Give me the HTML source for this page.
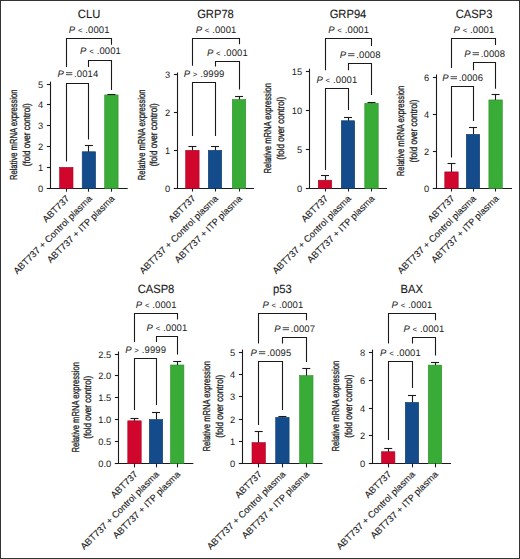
<!DOCTYPE html>
<html><head><meta charset="utf-8"><style>
html,body{margin:0;padding:0;background:#fff;}
body{width:520px;height:559px;overflow:hidden;}
svg{display:block;}
text{font-family:"Liberation Sans",sans-serif;fill:#1a1a1a;text-rendering:geometricPrecision;}
.t{font-size:9.3px;}
.p{font-size:9.5px;letter-spacing:0.1px;}
.op{font-size:7.8px;}
.eq{fill:none;}
.ti{font-size:11.2px;stroke:#1a1a1a;stroke-width:0.12px;}
.yl{font-size:10.1px;stroke:#1a1a1a;stroke-width:0.3px;}
.xl{font-size:9.3px;stroke:#1a1a1a;stroke-width:0.12px;}
</style></head><body>
<svg width="520" height="559" viewBox="0 0 520 559">
<rect x="0.5" y="0.5" width="519" height="558" fill="#fff" stroke="#333" stroke-width="1"/>
<line x1="50.50" y1="81.60" x2="50.50" y2="188.50" stroke="#1a1a1a" stroke-width="1.1"/>
<line x1="46.90" y1="188.50" x2="50.50" y2="188.50" stroke="#1a1a1a" stroke-width="1.1"/>
<text transform="translate(43.20,191.50) scale(1,1.0)" class="t" text-anchor="end">0</text>
<line x1="46.90" y1="167.50" x2="50.50" y2="167.50" stroke="#1a1a1a" stroke-width="1.1"/>
<text transform="translate(43.20,170.50) scale(1,1.0)" class="t" text-anchor="end">1</text>
<line x1="46.90" y1="146.50" x2="50.50" y2="146.50" stroke="#1a1a1a" stroke-width="1.1"/>
<text transform="translate(43.20,149.50) scale(1,1.0)" class="t" text-anchor="end">2</text>
<line x1="46.90" y1="125.50" x2="50.50" y2="125.50" stroke="#1a1a1a" stroke-width="1.1"/>
<text transform="translate(43.20,128.50) scale(1,1.0)" class="t" text-anchor="end">3</text>
<line x1="46.90" y1="104.50" x2="50.50" y2="104.50" stroke="#1a1a1a" stroke-width="1.1"/>
<text transform="translate(43.20,107.50) scale(1,1.0)" class="t" text-anchor="end">4</text>
<line x1="46.90" y1="84.50" x2="50.50" y2="84.50" stroke="#1a1a1a" stroke-width="1.1"/>
<text transform="translate(43.20,87.50) scale(1,1.0)" class="t" text-anchor="end">5</text>
<line x1="46.90" y1="188.50" x2="127.70" y2="188.50" stroke="#1a1a1a" stroke-width="1.1"/>
<rect x="59.60" y="167.38" width="13.4" height="21.12" fill="#d1062c" stroke="#a00424" stroke-width="0.6"/>
<line x1="66.50" y1="188.50" x2="66.50" y2="191.70" stroke="#1a1a1a" stroke-width="1.1"/>
<rect x="82.20" y="151.76" width="13.4" height="36.74" fill="#144b8b" stroke="#0e3a6e" stroke-width="0.6"/>
<line x1="88.50" y1="145.94" x2="88.50" y2="151.76" stroke="#1a1a1a" stroke-width="1.1"/>
<line x1="84.90" y1="145.50" x2="92.90" y2="145.50" stroke="#1a1a1a" stroke-width="1.1"/>
<line x1="88.50" y1="188.50" x2="88.50" y2="191.70" stroke="#1a1a1a" stroke-width="1.1"/>
<rect x="104.70" y="94.93" width="13.4" height="93.57" fill="#39ab37" stroke="#2d8f2c" stroke-width="0.6"/>
<line x1="111.50" y1="94.09" x2="111.50" y2="94.93" stroke="#1a1a1a" stroke-width="1.1"/>
<line x1="107.40" y1="94.50" x2="115.40" y2="94.50" stroke="#1a1a1a" stroke-width="1.1"/>
<line x1="111.50" y1="188.50" x2="111.50" y2="191.70" stroke="#1a1a1a" stroke-width="1.1"/>
<text transform="translate(89.20,33.30) scale(1,1.0)" class="p" text-anchor="middle"><tspan font-style="italic">P</tspan> <tspan class="op">&lt;</tspan> .0001</text>
<polyline points="66.5,67.00 66.5,38.5 111.5,38.5 111.5,44.80" fill="none" stroke="#1a1a1a" stroke-width="1.1"/>
<text transform="translate(100.50,54.30) scale(1,1.0)" class="p" text-anchor="middle"><tspan font-style="italic">P</tspan> <tspan class="op">&lt;</tspan> .0001</text>
<polyline points="88.5,67.00 88.5,60.5 111.5,60.5 111.5,90.00" fill="none" stroke="#1a1a1a" stroke-width="1.1"/>
<text transform="translate(77.95,77.30) scale(1,1.0)" class="p" text-anchor="middle"><tspan font-style="italic">P</tspan> <tspan class="op eq">=</tspan> .0014</text>
<polyline points="66.5,161.50 66.5,83.5 88.5,83.5 88.5,139.50" fill="none" stroke="#1a1a1a" stroke-width="1.1"/>
<text transform="translate(89.05,17.60) scale(1,1.07)" class="ti" text-anchor="middle">CLU</text>
<text transform="translate(17.20,134.80) rotate(-90)" class="yl" text-anchor="middle" textLength="90.6" lengthAdjust="spacingAndGlyphs">Relative mRNA expression</text>
<text transform="translate(29.80,134.80) rotate(-90)" class="yl" text-anchor="middle" textLength="63" lengthAdjust="spacingAndGlyphs">(fold over control)</text>
<text transform="translate(70.00,199.20) rotate(-45)" class="xl" text-anchor="end">ABT737</text>
<text transform="translate(92.60,199.20) rotate(-45)" class="xl" text-anchor="end">ABT737 + Control plasma</text>
<text transform="translate(115.10,199.20) rotate(-45)" class="xl" text-anchor="end">ABT737 + ITP plasma</text>
<line x1="177.50" y1="72.49" x2="177.50" y2="188.50" stroke="#1a1a1a" stroke-width="1.1"/>
<line x1="173.90" y1="188.50" x2="177.50" y2="188.50" stroke="#1a1a1a" stroke-width="1.1"/>
<text transform="translate(170.20,191.50) scale(1,1.0)" class="t" text-anchor="end">0</text>
<line x1="173.90" y1="150.50" x2="177.50" y2="150.50" stroke="#1a1a1a" stroke-width="1.1"/>
<text transform="translate(170.20,153.50) scale(1,1.0)" class="t" text-anchor="end">1</text>
<line x1="173.90" y1="112.50" x2="177.50" y2="112.50" stroke="#1a1a1a" stroke-width="1.1"/>
<text transform="translate(170.20,115.50) scale(1,1.0)" class="t" text-anchor="end">2</text>
<line x1="173.90" y1="74.50" x2="177.50" y2="74.50" stroke="#1a1a1a" stroke-width="1.1"/>
<text transform="translate(170.20,77.50) scale(1,1.0)" class="t" text-anchor="end">3</text>
<line x1="173.90" y1="188.50" x2="254.00" y2="188.50" stroke="#1a1a1a" stroke-width="1.1"/>
<rect x="185.70" y="150.33" width="13.4" height="38.17" fill="#d1062c" stroke="#a00424" stroke-width="0.6"/>
<line x1="192.50" y1="146.19" x2="192.50" y2="150.33" stroke="#1a1a1a" stroke-width="1.1"/>
<line x1="188.40" y1="146.50" x2="196.40" y2="146.50" stroke="#1a1a1a" stroke-width="1.1"/>
<line x1="192.50" y1="188.50" x2="192.50" y2="191.50" stroke="#1a1a1a" stroke-width="1.1"/>
<rect x="208.30" y="150.33" width="13.4" height="38.17" fill="#144b8b" stroke="#0e3a6e" stroke-width="0.6"/>
<line x1="215.50" y1="146.19" x2="215.50" y2="150.33" stroke="#1a1a1a" stroke-width="1.1"/>
<line x1="211.00" y1="146.50" x2="219.00" y2="146.50" stroke="#1a1a1a" stroke-width="1.1"/>
<line x1="215.50" y1="188.50" x2="215.50" y2="191.50" stroke="#1a1a1a" stroke-width="1.1"/>
<rect x="232.30" y="99.48" width="13.4" height="89.02" fill="#39ab37" stroke="#2d8f2c" stroke-width="0.6"/>
<line x1="239.50" y1="96.09" x2="239.50" y2="99.48" stroke="#1a1a1a" stroke-width="1.1"/>
<line x1="235.00" y1="96.50" x2="243.00" y2="96.50" stroke="#1a1a1a" stroke-width="1.1"/>
<line x1="239.50" y1="188.50" x2="239.50" y2="191.50" stroke="#1a1a1a" stroke-width="1.1"/>
<text transform="translate(216.05,33.30) scale(1,1.0)" class="p" text-anchor="middle"><tspan font-style="italic">P</tspan> <tspan class="op">&lt;</tspan> .0001</text>
<polyline points="192.5,65.80 192.5,38.5 239.5,38.5 239.5,44.20" fill="none" stroke="#1a1a1a" stroke-width="1.1"/>
<text transform="translate(227.35,56.30) scale(1,1.0)" class="p" text-anchor="middle"><tspan font-style="italic">P</tspan> <tspan class="op">&lt;</tspan> .0001</text>
<polyline points="215.5,66.50 215.5,61.5 239.5,61.5 239.5,89.50" fill="none" stroke="#1a1a1a" stroke-width="1.1"/>
<text transform="translate(204.05,77.30) scale(1,1.0)" class="p" text-anchor="middle"><tspan font-style="italic">P</tspan> <tspan class="op">&gt;</tspan> .9999</text>
<polyline points="192.5,136.00 192.5,82.5 215.5,82.5 215.5,136.00" fill="none" stroke="#1a1a1a" stroke-width="1.1"/>
<text transform="translate(215.50,17.50) scale(1,1.07)" class="ti" text-anchor="middle">GRP78</text>
<text transform="translate(145.00,134.85) rotate(-90)" class="yl" text-anchor="middle" textLength="90.6" lengthAdjust="spacingAndGlyphs">Relative mRNA expression</text>
<text transform="translate(157.00,134.85) rotate(-90)" class="yl" text-anchor="middle" textLength="63" lengthAdjust="spacingAndGlyphs">(fold over control)</text>
<text transform="translate(196.10,199.00) rotate(-45)" class="xl" text-anchor="end">ABT737</text>
<text transform="translate(218.70,199.00) rotate(-45)" class="xl" text-anchor="end">ABT737 + Control plasma</text>
<text transform="translate(242.70,199.00) rotate(-45)" class="xl" text-anchor="end">ABT737 + ITP plasma</text>
<line x1="309.50" y1="68.75" x2="309.50" y2="188.50" stroke="#1a1a1a" stroke-width="1.1"/>
<line x1="305.90" y1="188.50" x2="309.50" y2="188.50" stroke="#1a1a1a" stroke-width="1.1"/>
<text transform="translate(302.20,191.50) scale(1,1.0)" class="t" text-anchor="end">0</text>
<line x1="305.90" y1="149.50" x2="309.50" y2="149.50" stroke="#1a1a1a" stroke-width="1.1"/>
<text transform="translate(302.20,152.50) scale(1,1.0)" class="t" text-anchor="end">5</text>
<line x1="305.90" y1="110.50" x2="309.50" y2="110.50" stroke="#1a1a1a" stroke-width="1.1"/>
<text transform="translate(302.20,113.50) scale(1,1.0)" class="t" text-anchor="end">10</text>
<line x1="305.90" y1="71.50" x2="309.50" y2="71.50" stroke="#1a1a1a" stroke-width="1.1"/>
<text transform="translate(302.20,74.50) scale(1,1.0)" class="t" text-anchor="end">15</text>
<line x1="305.90" y1="188.50" x2="387.00" y2="188.50" stroke="#1a1a1a" stroke-width="1.1"/>
<rect x="318.30" y="180.22" width="13.4" height="8.28" fill="#d1062c" stroke="#a00424" stroke-width="0.6"/>
<line x1="325.50" y1="175.78" x2="325.50" y2="180.22" stroke="#1a1a1a" stroke-width="1.1"/>
<line x1="321.00" y1="175.50" x2="329.00" y2="175.50" stroke="#1a1a1a" stroke-width="1.1"/>
<line x1="325.50" y1="188.50" x2="325.50" y2="191.50" stroke="#1a1a1a" stroke-width="1.1"/>
<rect x="341.30" y="120.75" width="13.4" height="67.75" fill="#144b8b" stroke="#0e3a6e" stroke-width="0.6"/>
<line x1="348.50" y1="117.95" x2="348.50" y2="120.75" stroke="#1a1a1a" stroke-width="1.1"/>
<line x1="344.00" y1="117.50" x2="352.00" y2="117.50" stroke="#1a1a1a" stroke-width="1.1"/>
<line x1="348.50" y1="188.50" x2="348.50" y2="191.50" stroke="#1a1a1a" stroke-width="1.1"/>
<rect x="364.80" y="103.24" width="13.4" height="85.26" fill="#39ab37" stroke="#2d8f2c" stroke-width="0.6"/>
<line x1="371.50" y1="102.78" x2="371.50" y2="103.24" stroke="#1a1a1a" stroke-width="1.1"/>
<line x1="367.50" y1="102.50" x2="375.50" y2="102.50" stroke="#1a1a1a" stroke-width="1.1"/>
<line x1="371.50" y1="188.50" x2="371.50" y2="191.50" stroke="#1a1a1a" stroke-width="1.1"/>
<text transform="translate(348.60,33.30) scale(1,1.0)" class="p" text-anchor="middle"><tspan font-style="italic">P</tspan> <tspan class="op">&lt;</tspan> .0001</text>
<polyline points="325.5,70.20 325.5,38.5 371.5,38.5 371.5,46.10" fill="none" stroke="#1a1a1a" stroke-width="1.1"/>
<text transform="translate(360.10,58.30) scale(1,1.0)" class="p" text-anchor="middle"><tspan font-style="italic">P</tspan> <tspan class="op eq">=</tspan> .0008</text>
<polyline points="348.5,70.20 348.5,63.5 371.5,63.5 371.5,95.00" fill="none" stroke="#1a1a1a" stroke-width="1.1"/>
<text transform="translate(336.85,83.30) scale(1,1.0)" class="p" text-anchor="middle"><tspan font-style="italic">P</tspan> <tspan class="op">&lt;</tspan> .0001</text>
<polyline points="325.5,170.00 325.5,88.5 348.5,88.5 348.5,110.00" fill="none" stroke="#1a1a1a" stroke-width="1.1"/>
<text transform="translate(348.00,17.90) scale(1,1.07)" class="ti" text-anchor="middle">GRP94</text>
<text transform="translate(270.80,128.20) rotate(-90)" class="yl" text-anchor="middle" textLength="90.6" lengthAdjust="spacingAndGlyphs">Relative mRNA expression</text>
<text transform="translate(284.20,128.20) rotate(-90)" class="yl" text-anchor="middle" textLength="63" lengthAdjust="spacingAndGlyphs">(fold over control)</text>
<text transform="translate(328.70,199.00) rotate(-45)" class="xl" text-anchor="end">ABT737</text>
<text transform="translate(351.70,199.00) rotate(-45)" class="xl" text-anchor="end">ABT737 + Control plasma</text>
<text transform="translate(375.20,199.00) rotate(-45)" class="xl" text-anchor="end">ABT737 + ITP plasma</text>
<line x1="436.50" y1="74.50" x2="436.50" y2="188.50" stroke="#1a1a1a" stroke-width="1.1"/>
<line x1="432.90" y1="188.50" x2="436.50" y2="188.50" stroke="#1a1a1a" stroke-width="1.1"/>
<text transform="translate(429.20,191.50) scale(1,1.0)" class="t" text-anchor="end">0</text>
<line x1="432.90" y1="151.50" x2="436.50" y2="151.50" stroke="#1a1a1a" stroke-width="1.1"/>
<text transform="translate(429.20,154.50) scale(1,1.0)" class="t" text-anchor="end">2</text>
<line x1="432.90" y1="114.50" x2="436.50" y2="114.50" stroke="#1a1a1a" stroke-width="1.1"/>
<text transform="translate(429.20,117.50) scale(1,1.0)" class="t" text-anchor="end">4</text>
<line x1="432.90" y1="77.50" x2="436.50" y2="77.50" stroke="#1a1a1a" stroke-width="1.1"/>
<text transform="translate(429.20,80.50) scale(1,1.0)" class="t" text-anchor="end">6</text>
<line x1="432.90" y1="188.50" x2="512.00" y2="188.50" stroke="#1a1a1a" stroke-width="1.1"/>
<rect x="444.80" y="171.91" width="13.4" height="16.59" fill="#d1062c" stroke="#a00424" stroke-width="0.6"/>
<line x1="451.50" y1="163.76" x2="451.50" y2="171.91" stroke="#1a1a1a" stroke-width="1.1"/>
<line x1="447.50" y1="163.50" x2="455.50" y2="163.50" stroke="#1a1a1a" stroke-width="1.1"/>
<line x1="451.50" y1="188.50" x2="451.50" y2="191.50" stroke="#1a1a1a" stroke-width="1.1"/>
<rect x="466.30" y="134.35" width="13.4" height="54.15" fill="#144b8b" stroke="#0e3a6e" stroke-width="0.6"/>
<line x1="473.50" y1="127.69" x2="473.50" y2="134.35" stroke="#1a1a1a" stroke-width="1.1"/>
<line x1="469.00" y1="127.50" x2="477.00" y2="127.50" stroke="#1a1a1a" stroke-width="1.1"/>
<line x1="473.50" y1="188.50" x2="473.50" y2="191.50" stroke="#1a1a1a" stroke-width="1.1"/>
<rect x="488.90" y="99.94" width="13.4" height="88.56" fill="#39ab37" stroke="#2d8f2c" stroke-width="0.6"/>
<line x1="495.50" y1="94.39" x2="495.50" y2="99.94" stroke="#1a1a1a" stroke-width="1.1"/>
<line x1="491.60" y1="94.50" x2="499.60" y2="94.50" stroke="#1a1a1a" stroke-width="1.1"/>
<line x1="495.50" y1="188.50" x2="495.50" y2="191.50" stroke="#1a1a1a" stroke-width="1.1"/>
<text transform="translate(473.90,33.30) scale(1,1.0)" class="p" text-anchor="middle"><tspan font-style="italic">P</tspan> <tspan class="op">&lt;</tspan> .0001</text>
<polyline points="451.5,68.10 451.5,38.5 495.5,38.5 495.5,44.90" fill="none" stroke="#1a1a1a" stroke-width="1.1"/>
<text transform="translate(484.65,57.30) scale(1,1.0)" class="p" text-anchor="middle"><tspan font-style="italic">P</tspan> <tspan class="op eq">=</tspan> .0008</text>
<polyline points="473.5,70.20 473.5,62.5 495.5,62.5 495.5,88.75" fill="none" stroke="#1a1a1a" stroke-width="1.1"/>
<text transform="translate(462.60,81.30) scale(1,1.0)" class="p" text-anchor="middle"><tspan font-style="italic">P</tspan> <tspan class="op eq">=</tspan> .0006</text>
<polyline points="451.5,157.50 451.5,86.5 473.5,86.5 473.5,121.00" fill="none" stroke="#1a1a1a" stroke-width="1.1"/>
<text transform="translate(474.10,17.60) scale(1,1.07)" class="ti" text-anchor="middle">CASP3</text>
<text transform="translate(403.90,131.00) rotate(-90)" class="yl" text-anchor="middle" textLength="90.6" lengthAdjust="spacingAndGlyphs">Relative mRNA expression</text>
<text transform="translate(416.70,131.00) rotate(-90)" class="yl" text-anchor="middle" textLength="63" lengthAdjust="spacingAndGlyphs">(fold over control)</text>
<text transform="translate(455.20,199.00) rotate(-45)" class="xl" text-anchor="end">ABT737</text>
<text transform="translate(476.70,199.00) rotate(-45)" class="xl" text-anchor="end">ABT737 + Control plasma</text>
<text transform="translate(499.30,199.00) rotate(-45)" class="xl" text-anchor="end">ABT737 + ITP plasma</text>
<line x1="118.50" y1="351.50" x2="118.50" y2="463.50" stroke="#1a1a1a" stroke-width="1.1"/>
<line x1="114.90" y1="463.50" x2="118.50" y2="463.50" stroke="#1a1a1a" stroke-width="1.1"/>
<text transform="translate(111.20,466.50) scale(1,1.0)" class="t" text-anchor="end">0.0</text>
<line x1="114.90" y1="441.50" x2="118.50" y2="441.50" stroke="#1a1a1a" stroke-width="1.1"/>
<text transform="translate(111.20,444.50) scale(1,1.0)" class="t" text-anchor="end">0.5</text>
<line x1="114.90" y1="419.50" x2="118.50" y2="419.50" stroke="#1a1a1a" stroke-width="1.1"/>
<text transform="translate(111.20,422.50) scale(1,1.0)" class="t" text-anchor="end">1.0</text>
<line x1="114.90" y1="397.50" x2="118.50" y2="397.50" stroke="#1a1a1a" stroke-width="1.1"/>
<text transform="translate(111.20,400.50) scale(1,1.0)" class="t" text-anchor="end">1.5</text>
<line x1="114.90" y1="375.50" x2="118.50" y2="375.50" stroke="#1a1a1a" stroke-width="1.1"/>
<text transform="translate(111.20,378.50) scale(1,1.0)" class="t" text-anchor="end">2.0</text>
<line x1="114.90" y1="354.50" x2="118.50" y2="354.50" stroke="#1a1a1a" stroke-width="1.1"/>
<text transform="translate(111.20,357.50) scale(1,1.0)" class="t" text-anchor="end">2.5</text>
<line x1="114.90" y1="463.50" x2="193.30" y2="463.50" stroke="#1a1a1a" stroke-width="1.1"/>
<rect x="127.80" y="420.82" width="13.4" height="42.68" fill="#d1062c" stroke="#a00424" stroke-width="0.6"/>
<line x1="134.50" y1="418.18" x2="134.50" y2="420.82" stroke="#1a1a1a" stroke-width="1.1"/>
<line x1="130.50" y1="418.50" x2="138.50" y2="418.50" stroke="#1a1a1a" stroke-width="1.1"/>
<line x1="134.50" y1="463.50" x2="134.50" y2="467.40" stroke="#1a1a1a" stroke-width="1.1"/>
<rect x="149.30" y="419.50" width="13.4" height="44.00" fill="#144b8b" stroke="#0e3a6e" stroke-width="0.6"/>
<line x1="156.50" y1="412.91" x2="156.50" y2="419.50" stroke="#1a1a1a" stroke-width="1.1"/>
<line x1="152.00" y1="412.50" x2="160.00" y2="412.50" stroke="#1a1a1a" stroke-width="1.1"/>
<line x1="156.50" y1="463.50" x2="156.50" y2="467.40" stroke="#1a1a1a" stroke-width="1.1"/>
<rect x="170.50" y="364.99" width="13.4" height="98.51" fill="#39ab37" stroke="#2d8f2c" stroke-width="0.6"/>
<line x1="177.50" y1="361.47" x2="177.50" y2="364.99" stroke="#1a1a1a" stroke-width="1.1"/>
<line x1="173.20" y1="361.50" x2="181.20" y2="361.50" stroke="#1a1a1a" stroke-width="1.1"/>
<line x1="177.50" y1="463.50" x2="177.50" y2="467.40" stroke="#1a1a1a" stroke-width="1.1"/>
<text transform="translate(156.20,308.30) scale(1,1.0)" class="p" text-anchor="middle"><tspan font-style="italic">P</tspan> <tspan class="op">&lt;</tspan> .0001</text>
<polyline points="134.5,342.00 134.5,313.5 177.5,313.5 177.5,319.50" fill="none" stroke="#1a1a1a" stroke-width="1.1"/>
<text transform="translate(166.95,331.30) scale(1,1.0)" class="p" text-anchor="middle"><tspan font-style="italic">P</tspan> <tspan class="op">&lt;</tspan> .0001</text>
<polyline points="156.5,342.00 156.5,336.5 177.5,336.5 177.5,354.40" fill="none" stroke="#1a1a1a" stroke-width="1.1"/>
<text transform="translate(145.60,353.30) scale(1,1.0)" class="p" text-anchor="middle"><tspan font-style="italic">P</tspan> <tspan class="op">&gt;</tspan> .9999</text>
<polyline points="134.5,410.00 134.5,358.5 156.5,358.5 156.5,405.00" fill="none" stroke="#1a1a1a" stroke-width="1.1"/>
<text transform="translate(156.00,292.90) scale(1,1.07)" class="ti" text-anchor="middle">CASP8</text>
<text transform="translate(78.50,407.30) rotate(-90)" class="yl" text-anchor="middle" textLength="90.6" lengthAdjust="spacingAndGlyphs">Relative mRNA expression</text>
<text transform="translate(91.30,407.30) rotate(-90)" class="yl" text-anchor="middle" textLength="63" lengthAdjust="spacingAndGlyphs">(fold over control)</text>
<text transform="translate(138.20,474.90) rotate(-45)" class="xl" text-anchor="end">ABT737</text>
<text transform="translate(159.70,474.90) rotate(-45)" class="xl" text-anchor="end">ABT737 + Control plasma</text>
<text transform="translate(180.90,474.90) rotate(-45)" class="xl" text-anchor="end">ABT737 + ITP plasma</text>
<line x1="242.50" y1="349.60" x2="242.50" y2="463.50" stroke="#1a1a1a" stroke-width="1.1"/>
<line x1="238.90" y1="463.50" x2="242.50" y2="463.50" stroke="#1a1a1a" stroke-width="1.1"/>
<text transform="translate(235.20,466.50) scale(1,1.0)" class="t" text-anchor="end">0</text>
<line x1="238.90" y1="441.50" x2="242.50" y2="441.50" stroke="#1a1a1a" stroke-width="1.1"/>
<text transform="translate(235.20,444.50) scale(1,1.0)" class="t" text-anchor="end">1</text>
<line x1="238.90" y1="419.50" x2="242.50" y2="419.50" stroke="#1a1a1a" stroke-width="1.1"/>
<text transform="translate(235.20,422.50) scale(1,1.0)" class="t" text-anchor="end">2</text>
<line x1="238.90" y1="396.50" x2="242.50" y2="396.50" stroke="#1a1a1a" stroke-width="1.1"/>
<text transform="translate(235.20,399.50) scale(1,1.0)" class="t" text-anchor="end">3</text>
<line x1="238.90" y1="374.50" x2="242.50" y2="374.50" stroke="#1a1a1a" stroke-width="1.1"/>
<text transform="translate(235.20,377.50) scale(1,1.0)" class="t" text-anchor="end">4</text>
<line x1="238.90" y1="352.50" x2="242.50" y2="352.50" stroke="#1a1a1a" stroke-width="1.1"/>
<text transform="translate(235.20,355.50) scale(1,1.0)" class="t" text-anchor="end">5</text>
<line x1="238.90" y1="463.50" x2="322.50" y2="463.50" stroke="#1a1a1a" stroke-width="1.1"/>
<rect x="252.00" y="442.66" width="13.4" height="20.84" fill="#d1062c" stroke="#a00424" stroke-width="0.6"/>
<line x1="258.50" y1="431.48" x2="258.50" y2="442.66" stroke="#1a1a1a" stroke-width="1.1"/>
<line x1="254.70" y1="431.50" x2="262.70" y2="431.50" stroke="#1a1a1a" stroke-width="1.1"/>
<line x1="258.50" y1="463.50" x2="258.50" y2="467.40" stroke="#1a1a1a" stroke-width="1.1"/>
<rect x="275.70" y="417.39" width="13.4" height="46.11" fill="#144b8b" stroke="#0e3a6e" stroke-width="0.6"/>
<line x1="282.50" y1="416.94" x2="282.50" y2="417.39" stroke="#1a1a1a" stroke-width="1.1"/>
<line x1="278.40" y1="416.50" x2="286.40" y2="416.50" stroke="#1a1a1a" stroke-width="1.1"/>
<line x1="282.50" y1="463.50" x2="282.50" y2="467.40" stroke="#1a1a1a" stroke-width="1.1"/>
<rect x="299.60" y="375.58" width="13.4" height="87.92" fill="#39ab37" stroke="#2d8f2c" stroke-width="0.6"/>
<line x1="306.50" y1="368.87" x2="306.50" y2="375.58" stroke="#1a1a1a" stroke-width="1.1"/>
<line x1="302.30" y1="368.50" x2="310.30" y2="368.50" stroke="#1a1a1a" stroke-width="1.1"/>
<line x1="306.50" y1="463.50" x2="306.50" y2="467.40" stroke="#1a1a1a" stroke-width="1.1"/>
<text transform="translate(282.85,308.30) scale(1,1.0)" class="p" text-anchor="middle"><tspan font-style="italic">P</tspan> <tspan class="op">&lt;</tspan> .0001</text>
<polyline points="258.5,343.60 258.5,313.5 306.5,313.5 306.5,320.30" fill="none" stroke="#1a1a1a" stroke-width="1.1"/>
<text transform="translate(294.70,332.30) scale(1,1.0)" class="p" text-anchor="middle"><tspan font-style="italic">P</tspan> <tspan class="op eq">=</tspan> .0007</text>
<polyline points="282.5,343.60 282.5,337.5 306.5,337.5 306.5,362.00" fill="none" stroke="#1a1a1a" stroke-width="1.1"/>
<text transform="translate(270.90,356.30) scale(1,1.0)" class="p" text-anchor="middle"><tspan font-style="italic">P</tspan> <tspan class="op eq">=</tspan> .0095</text>
<polyline points="258.5,425.00 258.5,361.5 282.5,361.5 282.5,410.00" fill="none" stroke="#1a1a1a" stroke-width="1.1"/>
<text transform="translate(282.40,292.90) scale(1,1.07)" class="ti" text-anchor="middle">p53</text>
<text transform="translate(209.60,406.20) rotate(-90)" class="yl" text-anchor="middle" textLength="90.6" lengthAdjust="spacingAndGlyphs">Relative mRNA expression</text>
<text transform="translate(222.80,406.20) rotate(-90)" class="yl" text-anchor="middle" textLength="63" lengthAdjust="spacingAndGlyphs">(fold over control)</text>
<text transform="translate(262.40,474.90) rotate(-45)" class="xl" text-anchor="end">ABT737</text>
<text transform="translate(286.10,474.90) rotate(-45)" class="xl" text-anchor="end">ABT737 + Control plasma</text>
<text transform="translate(310.00,474.90) rotate(-45)" class="xl" text-anchor="end">ABT737 + ITP plasma</text>
<line x1="372.50" y1="349.60" x2="372.50" y2="463.50" stroke="#1a1a1a" stroke-width="1.1"/>
<line x1="368.90" y1="463.50" x2="372.50" y2="463.50" stroke="#1a1a1a" stroke-width="1.1"/>
<text transform="translate(365.20,466.50) scale(1,1.0)" class="t" text-anchor="end">0</text>
<line x1="368.90" y1="435.50" x2="372.50" y2="435.50" stroke="#1a1a1a" stroke-width="1.1"/>
<text transform="translate(365.20,438.50) scale(1,1.0)" class="t" text-anchor="end">2</text>
<line x1="368.90" y1="408.50" x2="372.50" y2="408.50" stroke="#1a1a1a" stroke-width="1.1"/>
<text transform="translate(365.20,411.50) scale(1,1.0)" class="t" text-anchor="end">4</text>
<line x1="368.90" y1="380.50" x2="372.50" y2="380.50" stroke="#1a1a1a" stroke-width="1.1"/>
<text transform="translate(365.20,383.50) scale(1,1.0)" class="t" text-anchor="end">6</text>
<line x1="368.90" y1="352.50" x2="372.50" y2="352.50" stroke="#1a1a1a" stroke-width="1.1"/>
<text transform="translate(365.20,355.50) scale(1,1.0)" class="t" text-anchor="end">8</text>
<line x1="368.90" y1="463.50" x2="451.00" y2="463.50" stroke="#1a1a1a" stroke-width="1.1"/>
<rect x="381.50" y="451.74" width="13.4" height="11.76" fill="#d1062c" stroke="#a00424" stroke-width="0.6"/>
<line x1="388.50" y1="448.25" x2="388.50" y2="451.74" stroke="#1a1a1a" stroke-width="1.1"/>
<line x1="384.20" y1="448.50" x2="392.20" y2="448.50" stroke="#1a1a1a" stroke-width="1.1"/>
<line x1="388.50" y1="463.50" x2="388.50" y2="467.40" stroke="#1a1a1a" stroke-width="1.1"/>
<rect x="405.30" y="402.41" width="13.4" height="61.09" fill="#144b8b" stroke="#0e3a6e" stroke-width="0.6"/>
<line x1="412.50" y1="395.70" x2="412.50" y2="402.41" stroke="#1a1a1a" stroke-width="1.1"/>
<line x1="408.00" y1="395.50" x2="416.00" y2="395.50" stroke="#1a1a1a" stroke-width="1.1"/>
<line x1="412.50" y1="463.50" x2="412.50" y2="467.40" stroke="#1a1a1a" stroke-width="1.1"/>
<rect x="428.30" y="365.10" width="13.4" height="98.40" fill="#39ab37" stroke="#2d8f2c" stroke-width="0.6"/>
<line x1="435.50" y1="362.30" x2="435.50" y2="365.10" stroke="#1a1a1a" stroke-width="1.1"/>
<line x1="431.00" y1="362.50" x2="439.00" y2="362.50" stroke="#1a1a1a" stroke-width="1.1"/>
<line x1="435.50" y1="463.50" x2="435.50" y2="467.40" stroke="#1a1a1a" stroke-width="1.1"/>
<text transform="translate(411.95,308.30) scale(1,1.0)" class="p" text-anchor="middle"><tspan font-style="italic">P</tspan> <tspan class="op">&lt;</tspan> .0001</text>
<polyline points="388.5,343.60 388.5,313.5 435.5,313.5 435.5,320.30" fill="none" stroke="#1a1a1a" stroke-width="1.1"/>
<text transform="translate(423.85,332.30) scale(1,1.0)" class="p" text-anchor="middle"><tspan font-style="italic">P</tspan> <tspan class="op">&lt;</tspan> .0001</text>
<polyline points="412.5,343.60 412.5,337.5 435.5,337.5 435.5,355.40" fill="none" stroke="#1a1a1a" stroke-width="1.1"/>
<text transform="translate(400.45,356.30) scale(1,1.0)" class="p" text-anchor="middle"><tspan font-style="italic">P</tspan> <tspan class="op">&lt;</tspan> .0001</text>
<polyline points="388.5,440.00 388.5,361.5 412.5,361.5 412.5,388.00" fill="none" stroke="#1a1a1a" stroke-width="1.1"/>
<text transform="translate(411.65,292.90) scale(1,1.07)" class="ti" text-anchor="middle">BAX</text>
<text transform="translate(339.40,406.15) rotate(-90)" class="yl" text-anchor="middle" textLength="90.6" lengthAdjust="spacingAndGlyphs">Relative mRNA expression</text>
<text transform="translate(352.20,406.15) rotate(-90)" class="yl" text-anchor="middle" textLength="63" lengthAdjust="spacingAndGlyphs">(fold over control)</text>
<text transform="translate(391.90,474.90) rotate(-45)" class="xl" text-anchor="end">ABT737</text>
<text transform="translate(415.70,474.90) rotate(-45)" class="xl" text-anchor="end">ABT737 + Control plasma</text>
<text transform="translate(438.70,474.90) rotate(-45)" class="xl" text-anchor="end">ABT737 + ITP plasma</text>
<line x1="65.94" y1="72.70" x2="72.34" y2="72.70" stroke="#4a4a4a" stroke-width="1"/>
<line x1="65.94" y1="74.70" x2="72.34" y2="74.70" stroke="#4a4a4a" stroke-width="1"/>
<line x1="348.09" y1="53.70" x2="354.49" y2="53.70" stroke="#4a4a4a" stroke-width="1"/>
<line x1="348.09" y1="55.70" x2="354.49" y2="55.70" stroke="#4a4a4a" stroke-width="1"/>
<line x1="472.64" y1="52.70" x2="479.04" y2="52.70" stroke="#4a4a4a" stroke-width="1"/>
<line x1="472.64" y1="54.70" x2="479.04" y2="54.70" stroke="#4a4a4a" stroke-width="1"/>
<line x1="450.59" y1="76.70" x2="456.99" y2="76.70" stroke="#4a4a4a" stroke-width="1"/>
<line x1="450.59" y1="78.70" x2="456.99" y2="78.70" stroke="#4a4a4a" stroke-width="1"/>
<line x1="282.69" y1="327.70" x2="289.09" y2="327.70" stroke="#4a4a4a" stroke-width="1"/>
<line x1="282.69" y1="329.70" x2="289.09" y2="329.70" stroke="#4a4a4a" stroke-width="1"/>
<line x1="258.89" y1="351.70" x2="265.29" y2="351.70" stroke="#4a4a4a" stroke-width="1"/>
<line x1="258.89" y1="353.70" x2="265.29" y2="353.70" stroke="#4a4a4a" stroke-width="1"/>
</svg>
</body></html>
